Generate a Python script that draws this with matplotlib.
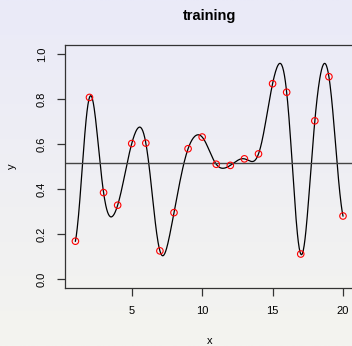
import numpy as np
import matplotlib
matplotlib.use("Agg")
import matplotlib.pyplot as plt

plt.rcParams['font.family'] = ['Liberation Sans', 'DejaVu Sans']

x = np.arange(1, 21)
y = np.array([0.168, 0.807, 0.384, 0.328, 0.602, 0.604, 0.125, 0.295, 0.579, 0.631,
              0.510, 0.505, 0.534, 0.556, 0.868, 0.830, 0.111, 0.703, 0.899, 0.280])

length_scale = 0.62
noise = 1e-6


def gp_fit(xs, ys, xq, ell, eps):
    # squared-exponential GP around the sample mean
    m = ys.mean()
    K = np.exp(-(xs[:, None] - xs[None, :]) ** 2 / (2 * ell ** 2)) + eps * np.eye(len(xs))
    alpha = np.linalg.solve(K, ys - m)
    Kq = np.exp(-(xq[:, None] - xs[None, :]) ** 2 / (2 * ell ** 2))
    return m + Kq @ alpha


xg = np.linspace(1, 20, 600)
yg = gp_fit(x.astype(float), y, xg, length_scale, noise)

fig = plt.figure(figsize=(3.52, 3.46), dpi=100)

# background gradient
bg = fig.add_axes([0, 0, 1, 1], zorder=-10)
top = np.array([234, 234, 248]) / 255
bot = np.array([244, 244, 239]) / 255
t = np.linspace(0, 1, 256)[:, None]
grad = (top * (1 - t) + bot * t)[:, None, :]
bg.imshow(grad, aspect='auto', extent=[0, 1, 0, 1])
bg.axis('off')

ax = fig.add_axes([64.7 / 352, 58 / 346, 289 / 352, 243 / 346])
ax.set_facecolor('none')

ax.plot(xg, yg, color='black', lw=0.9)
ax.axhline(y.mean(), color='#444444', lw=1.0)
ax.scatter(x, y, s=22, facecolors='none', edgecolors='red', linewidths=0.8, zorder=3)

ax.set_xlim(0.24, 20.76)
ax.set_ylim(-0.04, 1.04)
ax.set_xticks([5, 10, 15, 20])
ax.set_yticks([0.0, 0.2, 0.4, 0.6, 0.8, 1.0])
ax.set_yticklabels(['0.0', '0.2', '0.4', '0.6', '0.8', '1.0'], rotation=90, va='center')
ax.tick_params(labelsize=8, length=6, width=0.9, color='#333333', pad=7)
for s in ax.spines.values():
    s.set_color('#333333')
    s.set_linewidth(0.9)

ax.set_xlabel('x', fontsize=8, labelpad=14)
ax.set_ylabel('y', fontsize=8, labelpad=14)
fig.text(0.594, 0.955, 'training', ha='center', va='center', fontsize=10.5, fontweight='bold')

fig.savefig('out.png', dpi=100)
